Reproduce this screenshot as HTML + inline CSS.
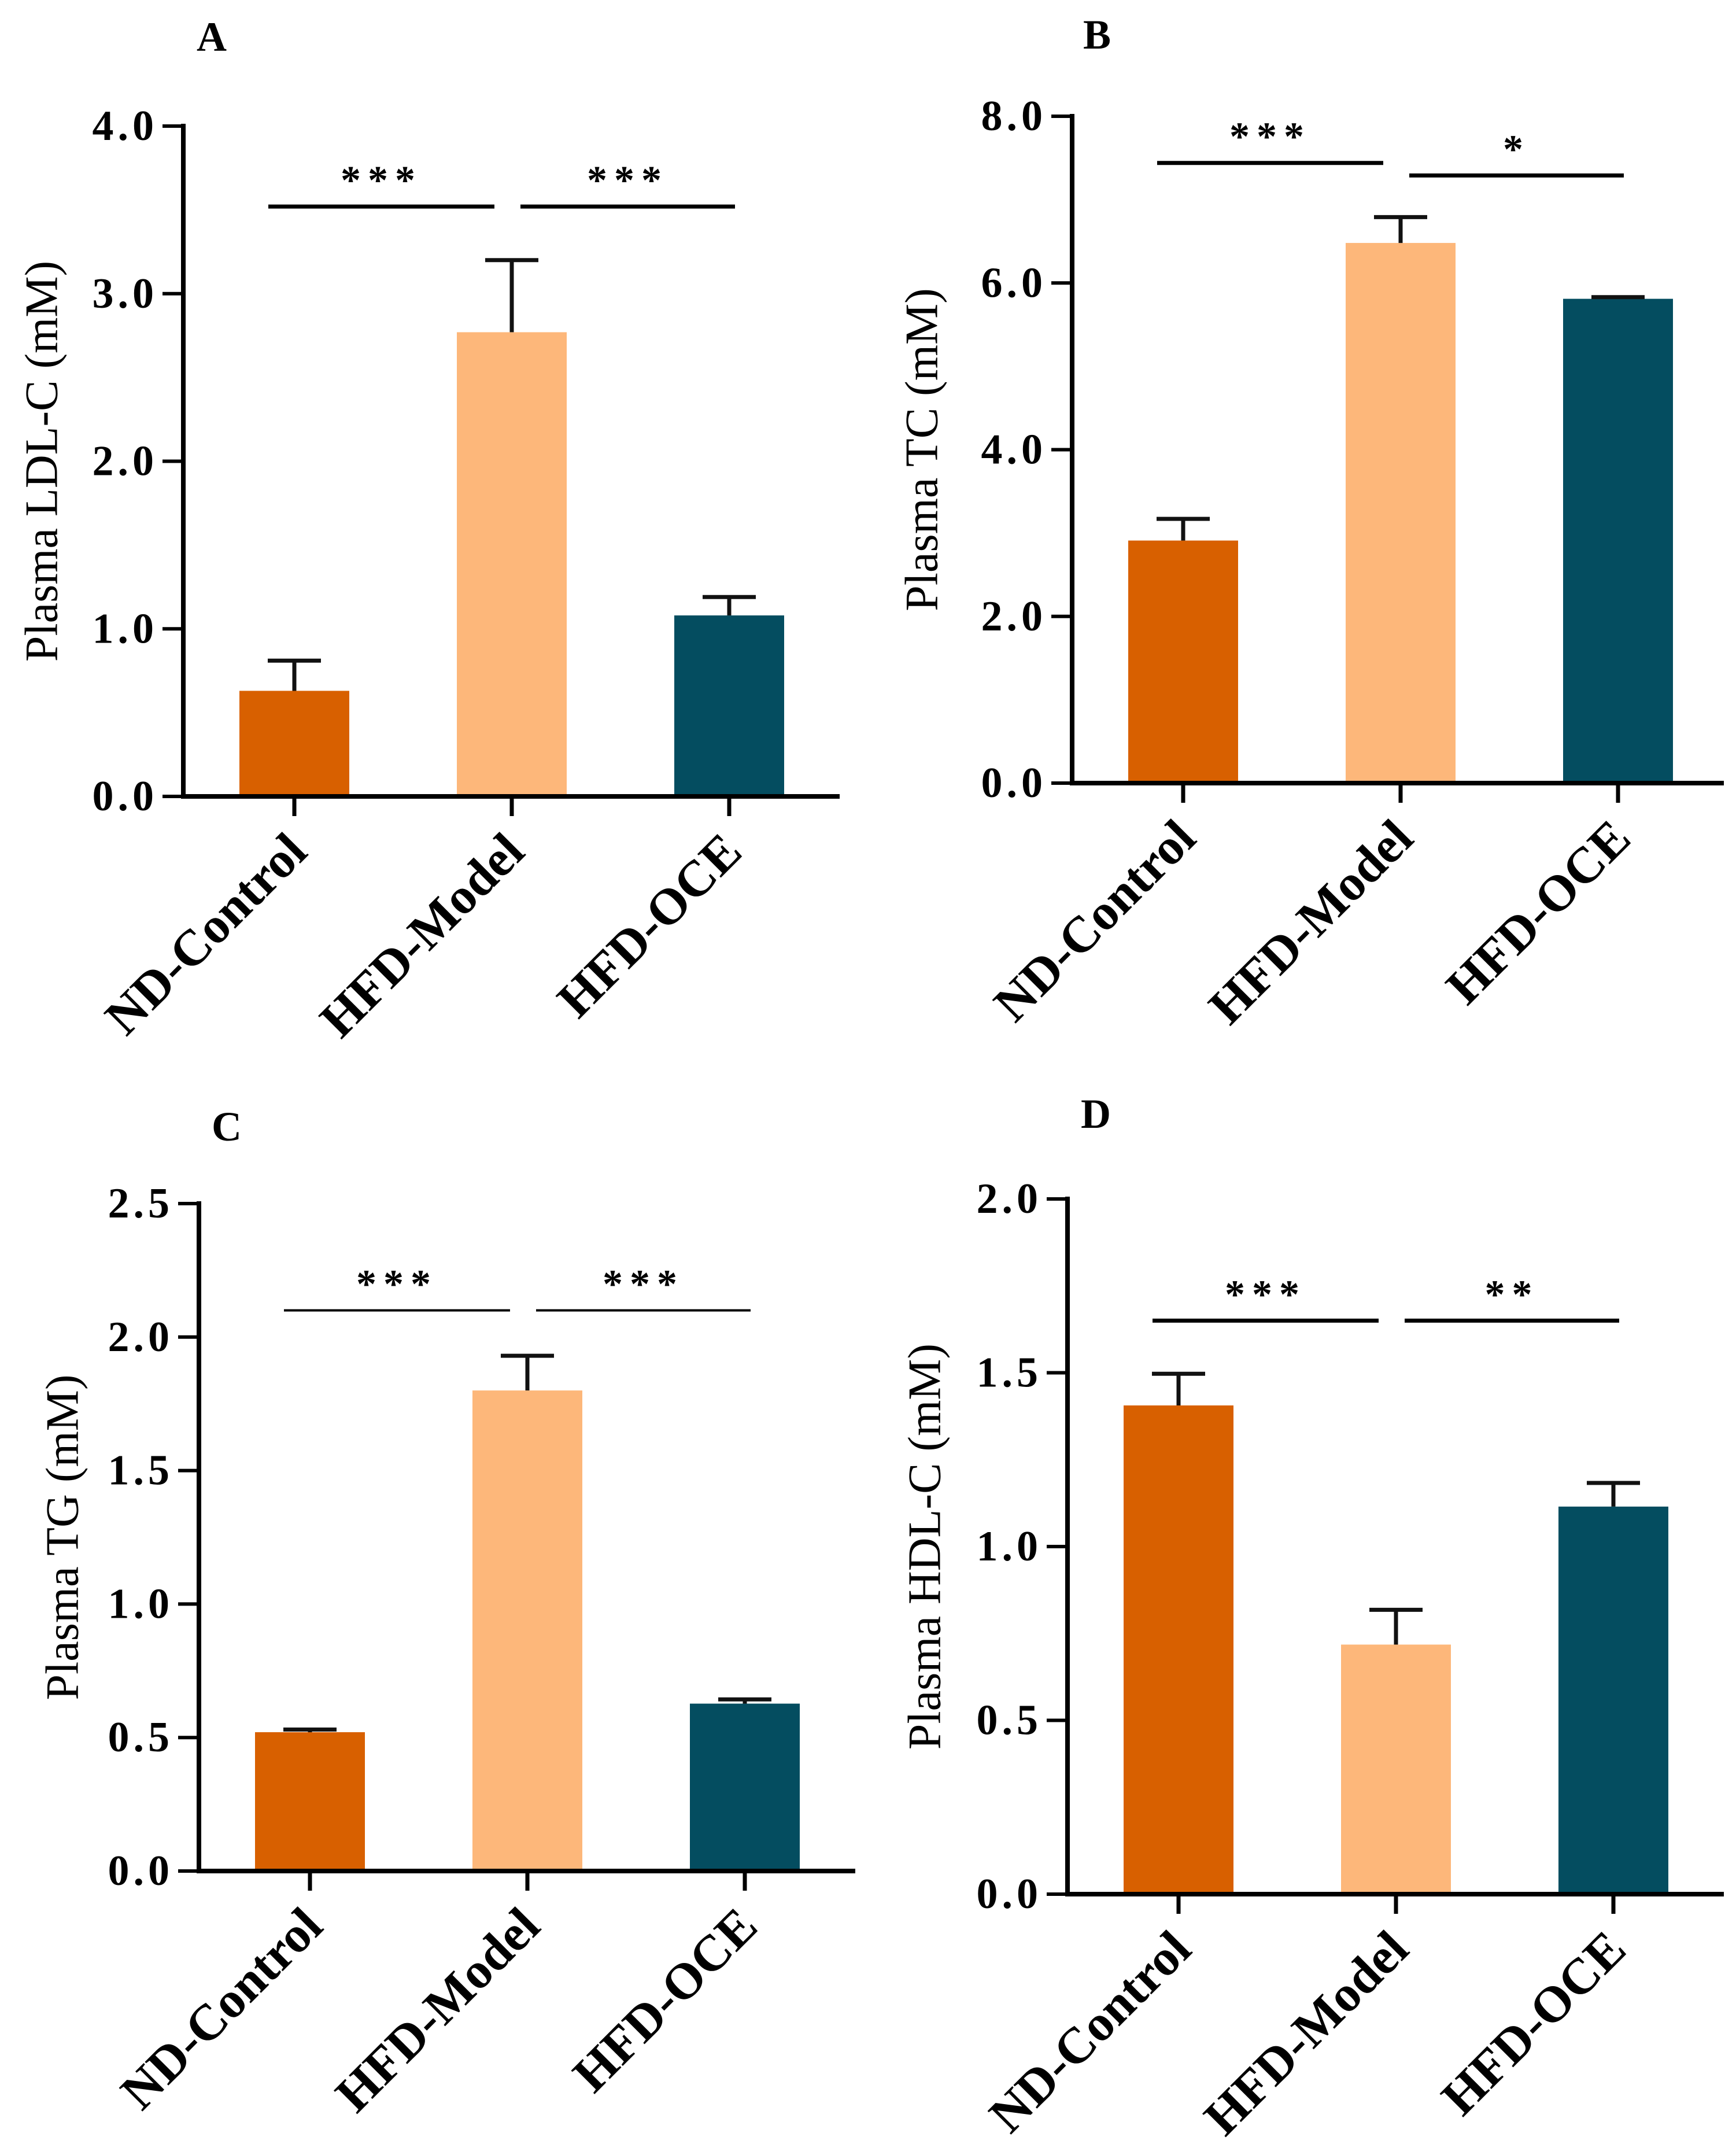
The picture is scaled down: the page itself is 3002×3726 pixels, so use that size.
<!DOCTYPE html>
<html><head><meta charset="utf-8"><style>
html,body{margin:0;padding:0;background:#fff;}
svg{display:block;}
text{font-family:"Liberation Serif",serif;fill:#000;}
</style></head><body>
<svg id="fig" xmlns="http://www.w3.org/2000/svg" width="3002" height="3726" viewBox="0 0 3002 3726"></svg>
<script>
const categories = ["ND-Control","HFD-Model","HFD-OCE"];
const ldlValues = [0.63, 2.77, 1.08];
const ldlErrors = [0.18, 0.43, 0.11];
const tcValues = [2.91, 6.48, 5.81];
const tcErrors = [0.26, 0.31, 0.02];
const tgValues = [0.52, 1.80, 0.627];
const tgErrors = [0.01, 0.13, 0.016];
const hdlValues = [1.406, 0.718, 1.115];
const hdlErrors = [0.091, 0.10, 0.068];
const ldlTicks = ["0.0","1.0","2.0","3.0","4.0"];
const tcTicks = ["0.0","2.0","4.0","6.0","8.0"];
const tgTicks = ["0.0","0.5","1.0","1.5","2.0","2.5"];
const hdlTicks = ["0.0","0.5","1.0","1.5","2.0"];
const ldlSig = [["***",0,1,3.52],["***",1,2,3.52]];
const tcSig = [["***",0,1,7.44],["*",1,2,7.29]];
const tgSig = [["***",0,1,2.1],["***",1,2,2.1]];
const hdlSig = [["***",0,1,1.65],["**",1,2,1.65]];

const colors = ["#D86000","#FDB77A","#044D60"];
const NS = "http://www.w3.org/2000/svg";
const svg = document.getElementById("fig");
function mk(tag, attrs, parent){
  const e = document.createElementNS(NS, tag);
  for (const k in attrs) e.setAttribute(k, attrs[k]);
  (parent||svg).appendChild(e);
  return e;
}
const panels = [
  {id:"a", letter:"A", lx:366, ly:88, ax:317, y0:1377, y1:218, xEnd:1452, max:4, title:"Plasma LDL-C (mM)", tx:80, vals:ldlValues, errs:ldlErrors, ticks:ldlTicks, sig:ldlSig, sigW:7},
  {id:"b", letter:"B", lx:1897, ly:84, ax:1854, y0:1354, y1:201, xEnd:2981, max:8, title:"Plasma TC (mM)", tx:1602, vals:tcValues, errs:tcErrors, ticks:tcTicks, sig:tcSig, sigW:7},
  {id:"c", letter:"C", lx:392, ly:1972, ax:344, y0:3235, y1:2081, xEnd:1479, max:2.5, title:"Plasma TG (mM)", tx:116, vals:tgValues, errs:tgErrors, ticks:tgTicks, sig:tgSig, sigW:4},
  {id:"d", letter:"D", lx:1895, ly:1950, ax:1846, y0:3275, y1:2073, xEnd:2981, max:2, title:"Plasma HDL-C (mM)", tx:1607, vals:hdlValues, errs:hdlErrors, ticks:hdlTicks, sig:hdlSig, sigW:7}
];
panels.forEach(p => {
  const g = mk("g", {});
  
  
  const y = v => p.y0 - (v / p.max) * (p.y0 - p.y1);
  const xc = i => p.ax + 192 + i * 376;
  const bw = 190;
  const L = mk("text", {x:p.lx, y:p.ly, "font-size":72, "font-weight":"bold", "text-anchor":"middle"}, g);
  L.textContent = p.letter;
  
  
  p.vals.forEach((v, i) => {
    const r = mk("rect", {x:xc(i)-bw/2, y:y(v), width:bw, height:p.y0 - y(v), fill:colors[i]}, g);
    
    
    const top = y(v + p.errs[i]);
    const eb = mk("path", {d:`M${xc(i)} ${y(v)} V${top} M${xc(i)-46} ${top} H${xc(i)+46}`, stroke:"#111", "stroke-width":7, fill:"none"}, g);
    
    
  });
  const yax = mk("line", {x1:p.ax, y1:p.y1-4, x2:p.ax, y2:p.y0+4, stroke:"#000", "stroke-width":8}, g);
  
  
  const xax = mk("line", {x1:p.ax-4, y1:p.y0, x2:p.xEnd, y2:p.y0, stroke:"#000", "stroke-width":8}, g);
  
  
  p.ticks.forEach((t, k) => {
    const v = p.max * k / (p.ticks.length - 1);
    const ty = y(v);
    mk("line", {x1:p.ax-36, y1:ty, x2:p.ax, y2:ty, stroke:"#000", "stroke-width":6}, g);
    const tt = mk("text", {x:p.ax-44, y:ty+24, "font-size":74, "font-weight":"bold", "text-anchor":"end", "letter-spacing":7}, g);
    tt.textContent = t;
    
    
  });
  categories.forEach((c, i) => {
    mk("line", {x1:xc(i), y1:p.y0, x2:xc(i), y2:p.y0+34, stroke:"#000", "stroke-width":7}, g);
    const lx = xc(i) + 26, ly = p.y0 + 100;
    const xt = mk("text", {x:lx, y:ly, "font-size":88, "font-weight":"bold", "text-anchor":"end", transform:`rotate(-45 ${lx} ${ly})`}, g);
    xt.textContent = c;
    
    
  });
  const cy = (p.y0 + p.y1) / 2;
  const yt = mk("text", {x:p.tx, y:cy, "font-size":80, "text-anchor":"middle", transform:`rotate(-90 ${p.tx} ${cy})`, "dominant-baseline":"middle"}, g);
  yt.textContent = p.title;
  
  
  p.sig.forEach(s => {
    const sy = y(s[3]);
    const x1 = xc(s[1]) - 45 + (s[1] > 0 ? 60 : 0), x2 = xc(s[2]) - (s[2] === 1 ? 30 : -10);
    const ln = mk("line", {x1:x1, y1:sy, x2:x2, y2:sy, stroke:"#000", "stroke-width":p.sigW}, g);
    
    
    const st = mk("text", {x:(x1+x2)/2, y:sy-22, "font-size":70, "font-weight":"bold", "text-anchor":"middle", "letter-spacing":12}, g);
    st.textContent = s[0];
    
    
  });
});
</script>
</body></html>
